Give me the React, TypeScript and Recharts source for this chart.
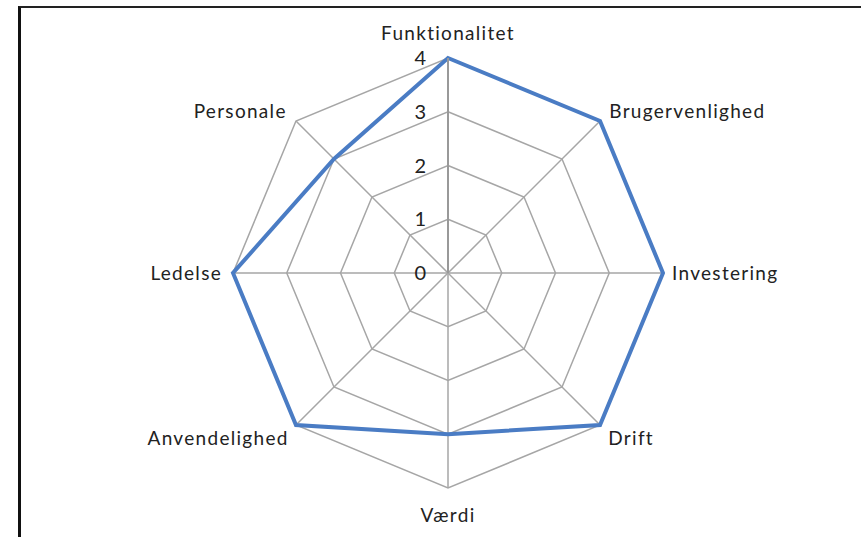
import React from 'react';
import { RadarChart, Radar, PolarGrid, PolarAngleAxis, PolarRadiusAxis } from 'recharts';

const categories = ['Funktionalitet', 'Brugervenlighed', 'Investering', 'Drift', 'Værdi', 'Anvendelighed', 'Ledelse', 'Personale'];
const scores = [4, 4, 4, 4, 3, 4, 4, 3];
const radiusTicks = [0, 1, 2, 3, 4];

const data = categories.map((c, i) => ({ category: c, score: scores[i] }));

const FONT = 'Lato, "Open Sans", sans-serif';

const AngleTick = (props: any) => {
  const { payload, x, y, cx, cy } = props;
  const dx = x - cx;
  const dy = y - cy;
  let anchor: 'start' | 'middle' | 'end' = 'middle';
  if (dx > 5) anchor = 'start';
  else if (dx < -5) anchor = 'end';
  let ox = 0;
  let oy = 7;
  if (Math.abs(dx) < 5) {
    oy = dy < 0 ? -12 : 28;
  } else if (Math.abs(dy) < 5) {
    ox = dx > 0 ? 3 : -5;
    oy = 7;
  } else if (dy < 0) {
    ox = dx > 0 ? 5 : -5;
    oy = 1;
  } else {
    ox = dx > 0 ? 4 : -3;
    oy = 16;
  }
  return (
    <text x={x + ox} y={y + oy} textAnchor={anchor} fontFamily={FONT} fontSize={19} letterSpacing={1.3} fill="#222" style={{ fontVariantLigatures: 'none' }}>
      {payload.value}
    </text>
  );
};

const RadiusTick = (props: any) => {
  const { payload, x, y } = props;
  return (
    <text x={x - 22} y={y + 7} textAnchor="end" fontFamily={FONT} fontSize={20} fill="#222">
      {payload.value}
    </text>
  );
};

export default function App() {
  return (
    <div style={{ position: 'fixed', left: 0, top: 0, width: 861, height: 537, overflow: 'hidden', background: '#fff' }}>
      <div style={{ position: 'absolute', left: 18, top: 6, width: 1000, height: 800, borderLeft: '3px solid #111', borderTop: '2px solid #222' }} />
      <div style={{ position: 'absolute', left: 0, top: 0 }}>
        <RadarChart width={861} height={537} cx={448} cy={273} outerRadius={215} data={data}>
          <PolarGrid stroke="#a6a6a6" strokeWidth={1.5} />
          <PolarAngleAxis dataKey="category" tick={<AngleTick />} tickLine={false} axisLine={false} tickSize={6} />
          <PolarRadiusAxis
            angle={90}
            domain={[0, 4]}
            ticks={radiusTicks as any}
            tickCount={5}
            tick={<RadiusTick />}
            axisLine={{ stroke: '#999', strokeWidth: 2 }}
            tickLine={false}
          />
          <Radar dataKey="score" stroke="#4a7cc4" strokeWidth={4} fill="none" fillOpacity={0} isAnimationActive={false} dot={false} />
        </RadarChart>
      </div>
    </div>
  );
}
